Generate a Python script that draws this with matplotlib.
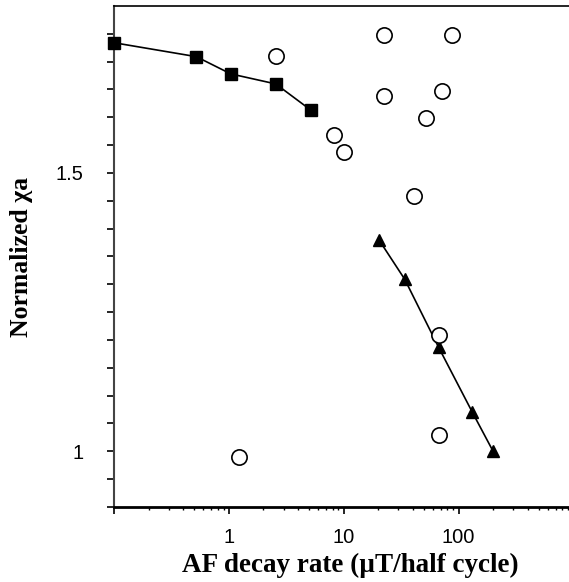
import matplotlib
matplotlib.use("Agg")
import matplotlib.pyplot as plt
from matplotlib.ticker import FixedLocator, LogLocator, NullFormatter

# series
sq_x = [0.1, 0.52, 1.04, 2.56, 5.17]
sq_y = [1.734, 1.709, 1.678, 1.660, 1.613]

tri_x = [20.4, 34, 67, 132, 200]
tri_y = [1.379, 1.309, 1.187, 1.070, 1.000]

circ_x = [2.56, 22.6, 86.9, 22.6, 72.1, 51.6, 8.24, 10.1, 41.2, 68, 68, 1.23]
circ_y = [1.710, 1.748, 1.748, 1.638, 1.648, 1.598, 1.568, 1.538, 1.459, 1.209, 1.029, 0.990]

fig = plt.figure(figsize=(5.69, 5.82), dpi=100)
ax = fig.add_axes([0.2004, 0.1289, 0.8, 0.8608])

ax.plot(sq_x, sq_y, color='black', lw=1.2, marker='s', ms=9, mfc='black', mec='black', clip_on=False, zorder=3)
ax.plot(tri_x, tri_y, color='black', lw=1.2, marker='^', ms=9, mfc='black', mec='black', zorder=3)
ax.plot(circ_x, circ_y, ls='none', marker='o', ms=11, mfc='white', mec='black', mew=1.2, zorder=4)

ax.set_xscale('log')
ax.set_xlim(0.1, 920)
ax.set_ylim(0.9, 1.8)

ax.xaxis.set_major_locator(FixedLocator([0.1, 1, 10, 100]))
ax.set_xticklabels(['', '1', '10', '100'])
ax.xaxis.set_minor_locator(LogLocator(base=10, subs=range(2, 10)))
ax.xaxis.set_minor_formatter(NullFormatter())

ax.yaxis.set_major_locator(FixedLocator([0.9, 0.95, 1.0, 1.05, 1.1, 1.15, 1.2, 1.25, 1.3, 1.35,
                                          1.4, 1.45, 1.5, 1.55, 1.6, 1.65, 1.7, 1.75]))
ax.set_yticklabels(['', '', '1', '', '', '', '', '', '', '', '', '', '1.5', '', '', '', '', ''])

ax.tick_params(axis='both', which='major', direction='out', length=5, width=1.2,
               labelsize=14.5)
ax.tick_params(axis='x', which='minor', direction='out', length=2.5, width=1)
for lab in ax.get_xticklabels() + ax.get_yticklabels():
    lab.set_fontfamily('Liberation Sans')
ax.tick_params(axis='y', pad=17)
ax.tick_params(axis='x', pad=10)

ax.spines['right'].set_visible(False)
ax.spines['top'].set_linewidth(1.2)
ax.spines['bottom'].set_linewidth(2)
ax.spines['left'].set_linewidth(1.5)
ax.spines['left'].set_color('#444444')

ax.set_xlabel('AF decay rate (\u00b5T/half cycle)', fontsize=19.5, fontweight='bold',
              family='Liberation Serif', labelpad=4)
ax.xaxis.set_label_coords(0.519, -0.092)
ax.set_ylabel('Normalized \u03c7a', fontsize=18.5, fontweight='bold',
              family='Liberation Serif', labelpad=16)

fig.savefig('out.png', dpi=100)
